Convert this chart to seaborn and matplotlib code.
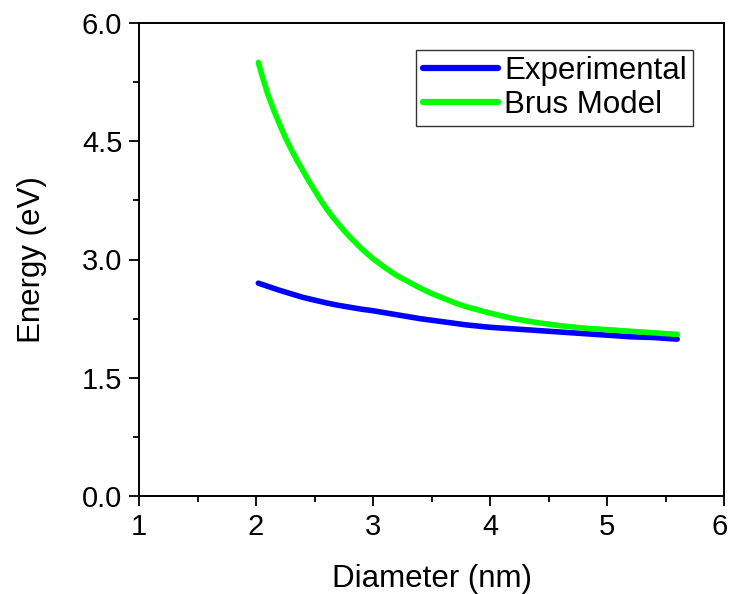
import numpy as np
import pandas as pd
import matplotlib
matplotlib.use("Agg")
import matplotlib.pyplot as plt
import matplotlib.transforms as mtransforms
import seaborn as sns
from matplotlib.ticker import MultipleLocator

# Band-gap energy versus nanocrystal diameter
exp_diameter = [2.02, 2.1, 2.2, 2.3, 2.4, 2.5, 2.6, 2.7, 2.8, 2.9, 3.0, 3.2, 3.4,
                3.6, 3.8, 4.0, 4.2, 4.4, 4.6, 4.8, 5.0, 5.2, 5.4, 5.6]
exp_energy = [2.70, 2.66, 2.61, 2.565, 2.52, 2.485, 2.45, 2.42, 2.395, 2.37, 2.35, 2.30, 2.25,
              2.21, 2.17, 2.14, 2.12, 2.10, 2.08, 2.06, 2.04, 2.02, 2.01, 1.99]

brus_diameter = [2.02, 2.05, 2.1, 2.15, 2.2, 2.25, 2.3, 2.35, 2.4, 2.45, 2.5, 2.55,
                 2.6, 2.65, 2.7, 2.75, 2.8, 2.9, 3.0, 3.1, 3.2, 3.3, 3.4, 3.5,
                 3.6, 3.7, 3.8, 4.0, 4.2, 4.4, 4.6, 4.8, 5.0, 5.2, 5.4, 5.6]
brus_energy = [5.50, 5.34, 5.10, 4.90, 4.72, 4.55, 4.40, 4.26, 4.13, 4.00, 3.88, 3.76,
               3.65, 3.55, 3.46, 3.37, 3.29, 3.14, 3.01, 2.90, 2.80, 2.72, 2.64, 2.57,
               2.51, 2.45, 2.40, 2.32, 2.25, 2.20, 2.16, 2.13, 2.11, 2.09, 2.07, 2.05]

series_names = ["Experimental", "Brus Model"]
series_colors = ["#0000FF", "#00FF00"]

x_ticks = [1, 2, 3, 4, 5, 6]
y_ticks = [0.0, 1.5, 3.0, 4.5, 6.0]

df = pd.concat([
    pd.DataFrame({"Diameter": exp_diameter, "Energy": exp_energy, "Series": series_names[0]}),
    pd.DataFrame({"Diameter": brus_diameter, "Energy": brus_energy, "Series": series_names[1]}),
], ignore_index=True)

sns.set_style("ticks")
plt.rcParams["font.family"] = ["Liberation Sans", "DejaVu Sans"]
plt.rcParams["text.color"] = "black"
plt.rcParams["axes.labelcolor"] = "black"
plt.rcParams["xtick.color"] = "black"
plt.rcParams["ytick.color"] = "black"

fig = plt.figure(figsize=(7.30, 5.94), dpi=100)
ax = fig.add_axes([139 / 730, 1 - 496 / 594, 585 / 730, 473 / 594])

sns.lineplot(data=df, x="Diameter", y="Energy", hue="Series",
             hue_order=series_names, palette=series_colors,
             linewidth=4, sort=False, ax=ax, legend=True,
             solid_joinstyle="round", solid_capstyle="round")

ax.set_xlim(x_ticks[0], x_ticks[-1])
ax.set_ylim(y_ticks[0], y_ticks[-1])
ax.set_xticks(x_ticks)
ax.set_yticks(y_ticks)
ax.set_xticklabels([str(v) for v in x_ticks])
ax.set_yticklabels([f"{v:.1f}" for v in y_ticks])
ax.xaxis.set_minor_locator(MultipleLocator(0.5))
ax.yaxis.set_minor_locator(MultipleLocator(0.75))

ax.tick_params(which="both", direction="out", color="black", width=1.3,
               top=False, right=False)
ax.tick_params(which="major", length=7, labelsize=21, pad=5)
ax.tick_params(which="minor", length=4)

# keep the last x tick label inside the canvas
last = ax.get_xticklabels()[-1]
last.set_transform(last.get_transform() +
                   mtransforms.ScaledTranslation(-4 / 100, 0, fig.dpi_scale_trans))

for sp in ax.spines.values():
    sp.set_visible(True)
    sp.set_color("black")
    sp.set_linewidth(1.4)

ax.set_xlabel("Diameter (nm)", fontsize=22.5, labelpad=17)
ax.set_ylabel("Energy (eV)", fontsize=22.5, labelpad=25)

leg = ax.legend(loc="upper right", bbox_to_anchor=(0.947, 0.943),
                borderaxespad=0, fontsize=22.5, frameon=True, fancybox=False,
                edgecolor="#333333", framealpha=1, handlelength=2.4,
                handletextpad=0.2, labelspacing=0.12, borderpad=0.2)
leg.get_frame().set_linewidth(1.0)
for line in leg.get_lines():
    line.set_linewidth(4.5)
    line.set_solid_capstyle("round")

fig.savefig("out.png", dpi=100)
